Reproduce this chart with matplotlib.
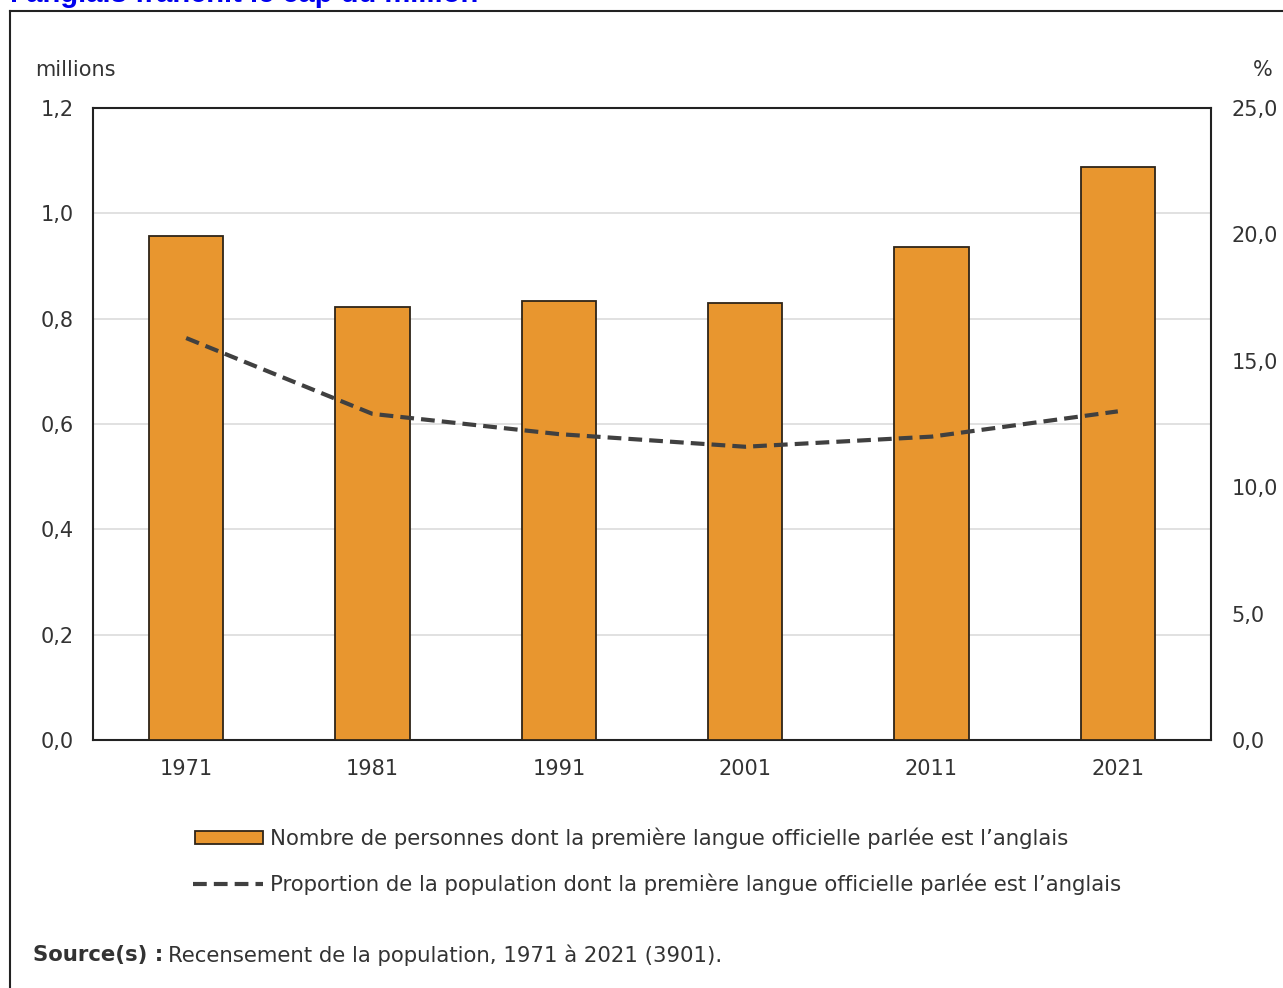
import matplotlib
import matplotlib.pyplot as plt
import numpy as np
from matplotlib.patches import Rectangle

matplotlib.use("Agg")

# data
years = ["1971", "1981", "1991", "2001", "2011", "2021"]
persons_millions = [0.957, 0.822, 0.834, 0.830, 0.936, 1.088]
share_percent = [15.9, 12.9, 12.1, 11.6, 12.0, 13.0]
left_ticks = [0.0, 0.2, 0.4, 0.6, 0.8, 1.0, 1.2]
right_ticks = [0.0, 5.0, 10.0, 15.0, 20.0, 25.0]

bar_label = "Nombre de personnes dont la première langue officielle parlée est l\u2019anglais"
line_label = "Proportion de la population dont la première langue officielle parlée est l\u2019anglais"
title = "l\u2019anglais franchit le cap du million"

# style
barColor = "#e8962f"
edgeColor = "#2e2418"
lineColor = "#404040"
gridColor = "#dcdcdc"
textColor = "#333333"
tickFS = 15
noteFS = 15.3

W, H = 1283, 988
fig = plt.figure(figsize=(W / 100, H / 100), dpi=100)


def fx(px):
    return px / W


def fy(py):
    return 1 - py / H


def fmt(v, nd):
    return ("{:.%df}" % nd).format(v).replace(".", ",")


ax = fig.add_axes([fx(93), fy(740), fx(1211 - 93), fy(108) - fy(740)])
x = np.arange(len(years))
ax.bar(x, persons_millions, width=0.4, color=barColor, edgecolor=edgeColor,
       linewidth=1.3, zorder=3)
ax.set_xlim(-0.5, len(years) - 0.5)
ax.set_ylim(0, 1.2)
ax.set_yticks(left_ticks)
ax.set_yticklabels([fmt(v, 1) for v in left_ticks])
ax.set_xticks(x)
ax.set_xticklabels(years)
ax.tick_params(axis="both", length=0, labelsize=tickFS, colors=textColor)
ax.tick_params(axis="y", pad=14)
ax.tick_params(axis="x", pad=14)
ax.grid(axis="y", color=gridColor, linewidth=1.2, zorder=0)
for s in ax.spines.values():
    s.set_linewidth(1.5)
    s.set_color("#222222")

ax2 = ax.twinx()
ax2.plot(x, share_percent, color=lineColor, linestyle=(0, (3.3, 1.7)),
         linewidth=3, zorder=4)
ax2.set_ylim(0, 25)
ax2.set_yticks(right_ticks)
ax2.set_yticklabels([fmt(v, 1) for v in right_ticks])
ax2.tick_params(axis="y", length=0, labelsize=tickFS, colors=textColor, pad=15)
for s in ax2.spines.values():
    s.set_visible(False)

# axis unit labels
fig.text(fx(35), fy(70), "millions", fontsize=tickFS, color=textColor, va="center")
fig.text(fx(1263), fy(70), "%", fontsize=tickFS, color=textColor, va="center",
         ha="center")

# outer frame and truncated title
fig.add_artist(plt.Line2D([fx(10), fx(10)], [fy(11), 0], color="#222222",
                          linewidth=1.5, transform=fig.transFigure))
fig.add_artist(plt.Line2D([fx(10), 1], [fy(11), fy(11)], color="#222222",
                          linewidth=1.5, transform=fig.transFigure))
fig.text(fx(10), fy(2), title, fontsize=21, fontweight="bold", color="#0000ee",
         va="baseline", family="Liberation Sans")

# legend
fig.add_artist(Rectangle((fx(195), fy(844)), fx(68), fy(831) - fy(844),
                         facecolor=barColor, edgecolor=edgeColor, linewidth=1.3,
                         transform=fig.transFigure))
fig.text(fx(270), fy(838), bar_label, fontsize=noteFS, color=textColor,
         va="center")
fig.add_artist(plt.Line2D([fx(193), fx(263)], [fy(884), fy(884)], color=lineColor,
                          linestyle=(0, (3.3, 1.7)), linewidth=3,
                          transform=fig.transFigure))
fig.text(fx(270), fy(884), line_label, fontsize=noteFS, color=textColor,
         va="center")

# source note
src = fig.text(fx(33), fy(955), "Source(s) :", fontsize=noteFS, color=textColor,
               va="center", fontweight="bold")
fig.canvas.draw()
bb = src.get_window_extent()
fig.text(bb.x1 / W + fx(5), fy(955),
         "Recensement de la population, 1971 à 2021 (3901).", fontsize=noteFS,
         color=textColor, va="center")

fig.savefig("out.png", dpi=100)
